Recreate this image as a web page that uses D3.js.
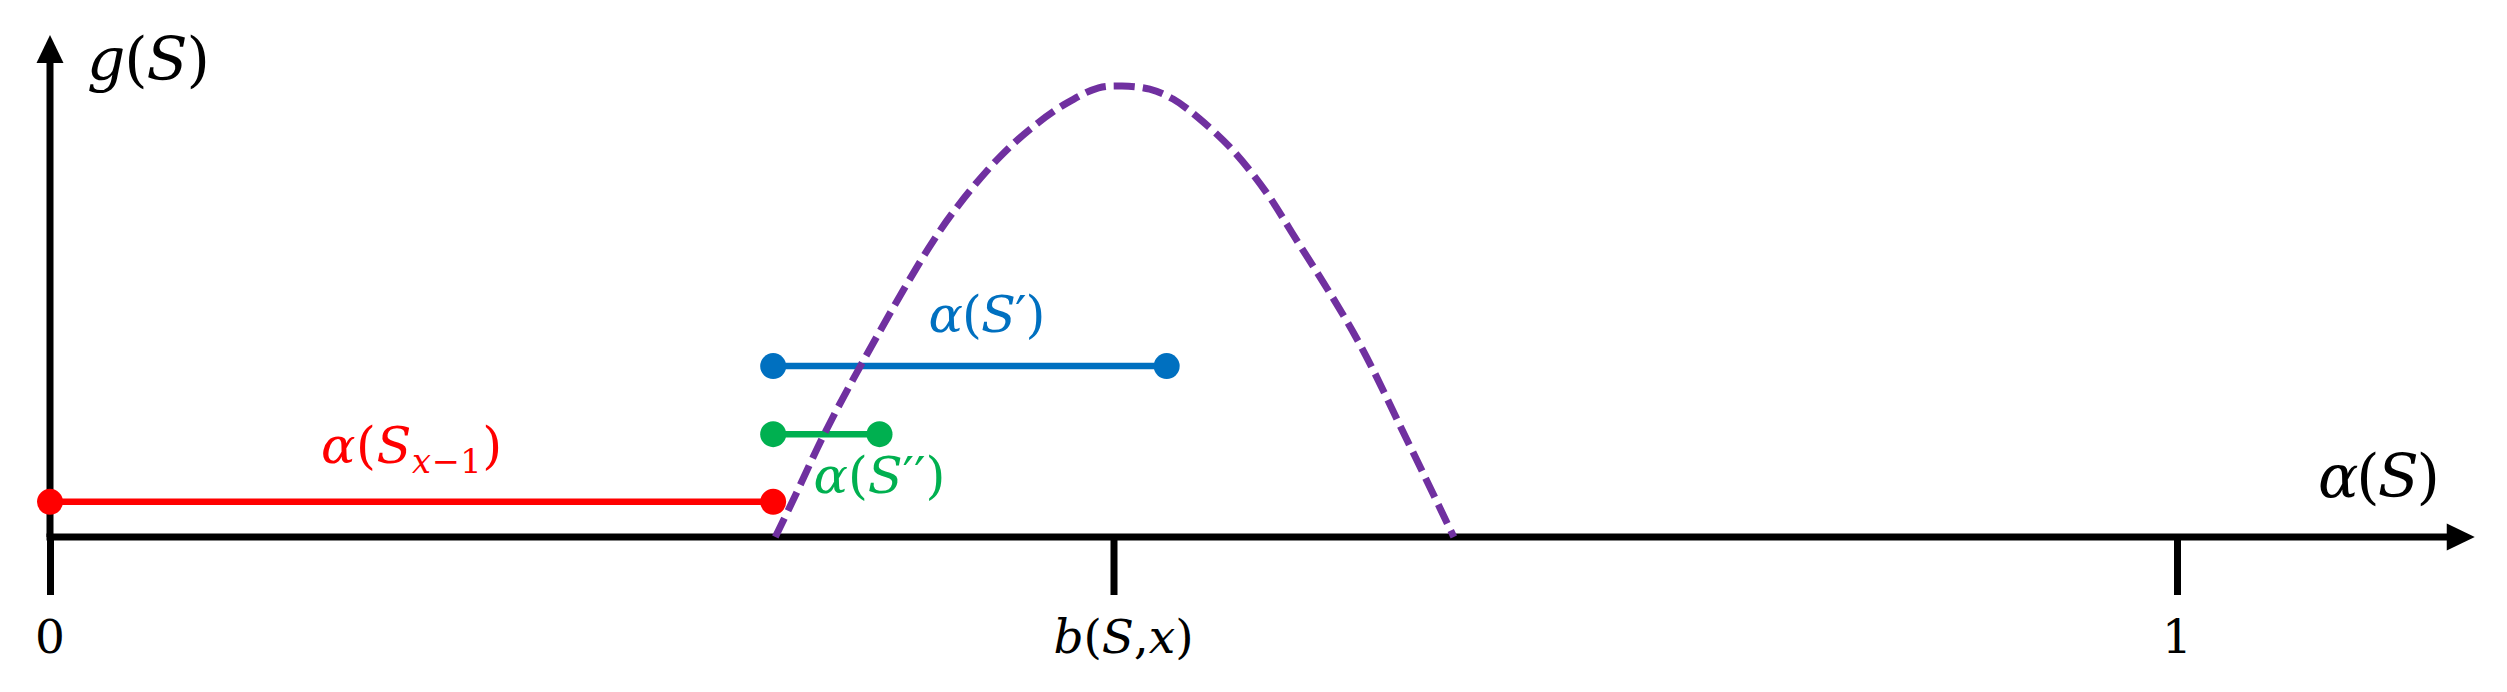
<!DOCTYPE html>
<html>
<head>
<meta charset="utf-8">
<script src="https://cdn.jsdelivr.net/npm/d3@7"></script>
<style>
  html, body { margin: 0; padding: 0; background: #fff; }
  svg { display: block; }
  text { font-family: "DejaVu Serif", "Liberation Serif", serif; }
</style>
</head>
<body>
<svg id="chart" width="2507" height="692"></svg>
<script>
// ---------- data ----------
const xTickValues = [0, 0.5, 1];
const xTickLabels = ["0", "b(S,x)", "1"];

const segmentNames  = ["alpha(S_{x-1})", "alpha(S')", "alpha(S'')"];
const segmentStarts = [0, 0.34, 0.34];
const segmentEnds   = [0.34, 0.525, 0.39];
const segmentLevels = [0.078, 0.379, 0.228];

// dashed curve g(S)
const curveX = [0.341, 0.349, 0.364, 0.381, 0.413, 0.427, 0.446, 0.462, 0.478, 0.493, 0.504,
                0.517, 0.528, 0.540, 0.556, 0.572, 0.584, 0.614, 0.638, 0.660];
const curveY = [0, 0.078, 0.228, 0.379, 0.64, 0.735, 0.840, 0.909, 0.962, 0.996, 1.0,
                0.993, 0.971, 0.929, 0.858, 0.763, 0.674, 0.443, 0.215, 0];

// ---------- layout ----------
const svg = d3.select("#chart");
const x = d3.scaleLinear().domain([0, 1]).range([50, 2177]);
const y = d3.scaleLinear().domain([0, 1]).range([537, 86]);

const colors = ["#FF0000", "#0070C0", "#00B050"];
const purple = "#7030A0";
const axisW = 7;

// math text helper
function mathText(g, parts, fontSize, width) {
  const t = g.append("text").attr("font-size", fontSize);
  let inSub = false;
  parts.forEach(p => {
    const ts = t.append("tspan").text(p[0]);
    if (p[1].includes("i")) ts.attr("font-style", "italic");
    const sub = p[1].includes("s");
    if (sub) ts.attr("font-size", fontSize * 0.66);
    if (sub && !inSub) ts.attr("dy", fontSize * 0.19);
    if (!sub && inSub) ts.attr("dy", -fontSize * 0.19);
    inSub = sub;
  });
  if (width) t.attr("textLength", width).attr("lengthAdjust", "spacing");
  return t;
}

// ---------- axes ----------
const axisG = svg.append("g").attr("transform", `translate(0,${y(0)})`);
axisG.call(d3.axisBottom(x).tickValues(xTickValues).tickSize(58).tickFormat(""));
axisG.select(".domain").remove();
axisG.selectAll(".tick line").attr("stroke", "#000").attr("stroke-width", axisW);

// x axis line + arrow
const xEnd = x(1.14);
svg.append("line").attr("x1", x(0) - axisW / 2).attr("x2", xEnd - 26)
  .attr("y1", y(0)).attr("y2", y(0)).attr("stroke", "#000").attr("stroke-width", axisW);
svg.append("path").attr("d", `M${xEnd},${y(0)} L${xEnd - 28},${y(0) - 13.5} L${xEnd - 28},${y(0) + 13.5} Z`)
  .attr("fill", "#000");

// y axis line + arrow
const yTop = y(1.113);
svg.append("line").attr("x1", x(0)).attr("x2", x(0))
  .attr("y1", y(0)).attr("y2", yTop + 26).attr("stroke", "#000").attr("stroke-width", axisW);
svg.append("path").attr("d", `M${x(0)},${yTop} L${x(0) - 13.5},${yTop + 28} L${x(0) + 13.5},${yTop + 28} Z`)
  .attr("fill", "#000");

// tick labels
const tickParts = [
  [["0", "n"]],
  [["b", "i"], ["(", "n"], ["S", "i"], [",", "n"], ["x", "i"], [")", "n"]],
  [["1", "n"]]
];
const tickWidths = [null, 140, null];
xTickValues.forEach((v, i) => {
  mathText(svg, tickParts[i], 47, tickWidths[i])
    .attr("x", x(v) + (i === 1 ? 10 : 0)).attr("y", 653).attr("text-anchor", "middle");
});

// axis titles
mathText(svg, [["g", "i"], ["(", "n"], ["S", "i"], [")", "n"]], 60, 123)
  .attr("x", 87).attr("y", 80);
mathText(svg, [["α", "i"], ["(", "n"], ["S", "i"], [")", "n"]], 60, 122)
  .attr("x", 2379).attr("y", 497).attr("text-anchor", "middle");

// ---------- segments ----------
const segG = svg.append("g");
segmentNames.forEach((n, i) => {
  const c = colors[i];
  segG.append("line")
    .attr("x1", x(segmentStarts[i])).attr("x2", x(segmentEnds[i]))
    .attr("y1", y(segmentLevels[i])).attr("y2", y(segmentLevels[i]))
    .attr("stroke", c).attr("stroke-width", 6.5);
  [segmentStarts[i], segmentEnds[i]].forEach(v => {
    segG.append("circle").attr("cx", x(v)).attr("cy", y(segmentLevels[i])).attr("r", 13).attr("fill", c);
  });
});

// segment labels
const labelParts = [
  [["α", "i"], ["(", "n"], ["S", "i"], ["x", "is"], ["−1", "ns"], [")", "n"]],
  [["α", "i"], ["(", "n"], ["S", "i"], ["′", "n"], [")", "n"]],
  [["α", "i"], ["(", "n"], ["S", "i"], ["′′", "n"], [")", "n"]]
];
const labelWidths = [181, 117, 132];
const labelX = [
  (segmentStarts[0] + segmentEnds[0]) / 2,
  (segmentStarts[1] + segmentEnds[1]) / 2 + 0.008,
  segmentEnds[2]
];
const labelBaseline = [463, 332, 493];
labelParts.forEach((p, i) => {
  mathText(svg, p, 51, labelWidths[i]).attr("fill", colors[i])
    .attr("x", x(labelX[i])).attr("y", labelBaseline[i]).attr("text-anchor", "middle");
});

// ---------- dashed curve ----------
const curvePts = curveX.map((v, i) => [v, curveY[i]]);
svg.append("path")
  .datum(curvePts)
  .attr("d", d3.line().x(d => x(d[0])).y(d => y(d[1])).curve(d3.curveCatmullRom.alpha(0.5)))
  .attr("fill", "none").attr("stroke", purple).attr("stroke-width", 7)
  .attr("stroke-dasharray", "21,8");
</script>
</body>
</html>
